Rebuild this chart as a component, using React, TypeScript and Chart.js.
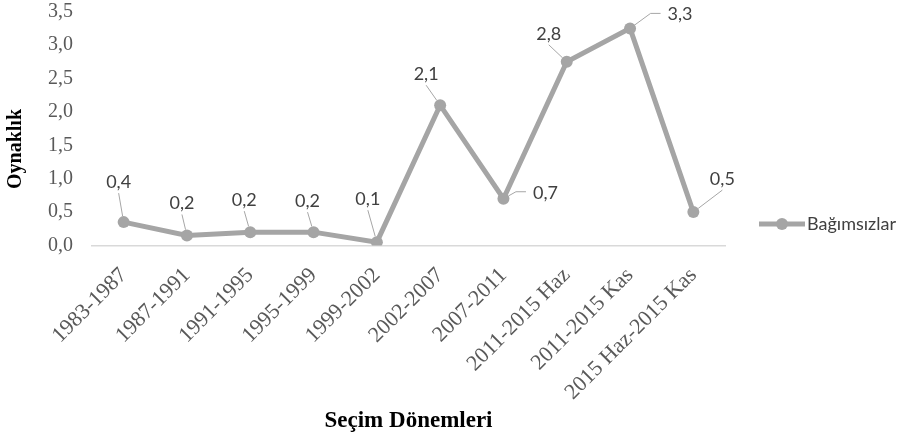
import React, { useEffect, useRef } from "react";
import { Chart, registerables } from "chart.js";

Chart.register(...registerables);

const categories = [
  "1983-1987",
  "1987-1991",
  "1991-1995",
  "1995-1999",
  "1999-2002",
  "2002-2007",
  "2007-2011",
  "2011-2015 Haz",
  "2011-2015 Kas",
  "2015 Haz-2015 Kas",
];
const seriesName = "Bağımsızlar";
const volatility = [0.35, 0.15, 0.2, 0.2, 0.05, 2.1, 0.7, 2.75, 3.25, 0.5];
const yTitle = "Oynaklık";
const xTitle = "Seçim Dönemleri";

// label placement (text centre offset from its point) and leader style
const labelOffsets: [number, number, string][] = [
  [-5, -40, "up"],
  [-5, -32, "up"],
  [-6, -32, "up"],
  [-6, -31, "up"],
  [-9, -43, "up"],
  [-14, -31, "up"],
  [42, -6, "elbow"],
  [-18, -28, "up"],
  [50, -14, "elbow"],
  [29, -33, "up"],
];

const LINE = "#a5a5a5";
const TEXT = "#404040";
const LABEL_FONT = "18px Lato";

const fmt = (v: number) => (Math.round(v * 10) / 10).toFixed(1).replace(".", ",");

const overlay = {
  id: "overlay",
  afterDatasetsDraw(chart: any) {
    const ctx = chart.ctx;
    const meta = chart.getDatasetMeta(0);
    ctx.save();
    ctx.font = LABEL_FONT;
    ctx.textAlign = "center";
    ctx.textBaseline = "middle";
    meta.data.forEach((pt: any, i: number) => {
      const [dx, dy, kind] = labelOffsets[i];
      const txt = fmt(volatility[i]);
      const cx = pt.x + dx;
      const cy = pt.y + dy;
      const w = ctx.measureText(txt).width;
      ctx.strokeStyle = "#a6a6a6";
      ctx.lineWidth = 1;
      ctx.beginPath();
      if (kind === "elbow") {
        const ax = cx - w / 2 - 7;
        const ay = cy - 1;
        const ex = ax - 10;
        const vx = ex - pt.x;
        const vy = ay - pt.y;
        const len = Math.hypot(vx, vy);
        ctx.moveTo(ax, ay);
        ctx.lineTo(ex, ay);
        ctx.lineTo(pt.x + (vx / len) * 6, pt.y + (vy / len) * 6);
      } else {
        const ax = cx;
        const ay = cy + 11;
        const vx = ax - pt.x;
        const vy = ay - pt.y;
        const len = Math.hypot(vx, vy);
        if (len > 8) {
          ctx.moveTo(ax, ay);
          ctx.lineTo(pt.x + (vx / len) * 6, pt.y + (vy / len) * 6);
        }
      }
      ctx.stroke();
      ctx.fillStyle = TEXT;
      ctx.fillText(txt, cx, cy);
    });

    // legend
    const ly = 224;
    ctx.strokeStyle = LINE;
    ctx.lineWidth = 5;
    ctx.beginPath();
    ctx.moveTo(759, ly);
    ctx.lineTo(805, ly);
    ctx.stroke();
    ctx.fillStyle = LINE;
    ctx.beginPath();
    ctx.arc(782, ly, 6, 0, Math.PI * 2);
    ctx.fill();
    ctx.fillStyle = TEXT;
    ctx.textAlign = "left";
    ctx.font = LABEL_FONT;
    ctx.fillText(seriesName, 807, ly);

    // y axis title
    ctx.save();
    ctx.translate(16, 149);
    ctx.rotate(-Math.PI / 2);
    ctx.textAlign = "center";
    ctx.textBaseline = "middle";
    ctx.font = "bold 20px 'Liberation Serif'";
    ctx.fillStyle = "#000";
    ctx.fillText(yTitle, 0, 0);
    ctx.restore();
    ctx.restore();
  },
};

export default function App() {
  const ref = useRef<HTMLCanvasElement>(null);
  useEffect(() => {
    document.body.style.margin = "0";
    const chart = new Chart(ref.current!, {
      type: "line",
      data: {
        labels: categories,
        datasets: [
          {
            label: seriesName,
            data: volatility,
            borderColor: LINE,
            backgroundColor: LINE,
            borderWidth: 5,
            pointRadius: 6,
            pointHoverRadius: 6,
            pointBackgroundColor: LINE,
            pointBorderColor: LINE,
            pointBorderWidth: 0,
            tension: 0,
          },
        ],
      },
      options: {
        responsive: false,
        animation: false,
        layout: { padding: { left: 0, top: 0, right: 176, bottom: 1 } },
        plugins: {
          legend: { display: false },
          tooltip: { enabled: false },
        },
        scales: {
          x: {
            offset: true,
            grid: { display: false, offset: true },
            border: { display: true, color: "#d9d9d9", width: 1.5 },
            ticks: {
              minRotation: 45,
              maxRotation: 45,
              padding: 9,
              color: "#595959",
              font: { family: "'Liberation Serif'", size: 22 },
            },
            title: {
              display: true,
              text: xTitle,
              color: "#000",
              font: { family: "'Liberation Serif'", size: 23, weight: "bold" },
              padding: { top: 4, bottom: 4 },
            },
            afterFit: (s: any) => {
              s.height = 193.5;
            },
          },
          y: {
            min: 0,
            max: 3.5,
            grid: { display: false, drawTicks: false },
            border: { display: false },
            ticks: {
              stepSize: 0.5,
              padding: 19,
              color: "#595959",
              font: { family: "'Liberation Serif'", size: 20 },
              callback: (v: any) => Number(v).toFixed(1).replace(".", ","),
            },
            afterFit: (s: any) => {
              s.width = 92;
              s.paddingTop = 11.7;
              s.paddingBottom = 0;
            },
          },
        },
      },
      plugins: [overlay],
    });
    return () => chart.destroy();
  }, []);
  return (
    <div style={{ width: 901, height: 440 }}>
      <canvas ref={ref} width={901} height={440} />
    </div>
  );
}
